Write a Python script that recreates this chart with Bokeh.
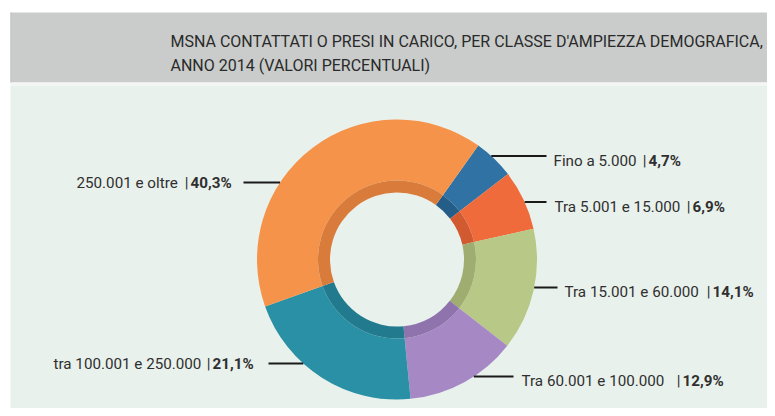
import math
from bokeh.plotting import figure
from bokeh.models import Range1d
from bokeh.core.properties import value
from bokeh.embed import file_html
from bokeh.resources import INLINE

# ---- data ----
categories = ["Fino a 5.000", "Tra 5.001 e 15.000", "Tra 15.001 e 60.000",
              "Tra 60.001 e 100.000", "tra 100.001 e 250.000", "250.001 e oltre"]
shares = [4.7, 6.9, 14.1, 12.9, 21.1, 40.3]
pct_labels = ["4,7%", "6,9%", "14,1%", "12,9%", "21,1%", "40,3%"]
title_lines = ["MSNA CONTATTATI O PRESI IN CARICO, PER CLASSE D'AMPIEZZA DEMOGRAFICA,",
               "ANNO 2014 (VALORI PERCENTUALI)"]

# ---- styles / layout ----
colors = ["#2F72A3", "#F06B3B", "#B8C886", "#A689C4", "#2A90A6", "#F5934A"]
dark_colors = ["#245D88", "#D25A31", "#9FAE70", "#8E73AC", "#217A8D", "#D97B3A"]
W, H = 767, 408
def Y(yp):
    return H - yp

cx, cy = 396.5, Y(259)
r_out, r_mid, r_in = 140, 79, 67
start_cw = 35.5

# label layout (px from top-left)
sides = ["R", "R", "R", "R", "L", "L"]
baselines = [160, 206, 291.5, 380.5, 363.5, 182.5]
name_x = [553, 554, 564, 521, 53, 76]
pipe_x = [644, 688, 708, 678, 208, 186]
pct_x = [648, 692, 712, 682, 212, 190]
line_end = [546, 546, 557, 513, 268, 243]

FONT = "Roboto"
FS = "15.2px"
TXT = "#2f2f2f"

p = figure(width=W, height=H, output_backend="svg", toolbar_location=None,
           x_range=Range1d(0, W), y_range=Range1d(0, H),
           x_axis_location=None, y_axis_location=None, min_border=0)
p.outline_line_color = None
p.grid.visible = False
p.background_fill_color = "white"
p.border_fill_color = "white"

# background panels
p.quad(left=[10], right=[W], top=[Y(12)], bottom=[Y(82)], fill_color="#C9CCCA", line_color=None)
p.quad(left=[10], right=[W], top=[Y(82)], bottom=[Y(85)], fill_color="#F3F6F4", line_color=None)
p.quad(left=[10], right=[W], top=[Y(85)], bottom=[0], fill_color="#E9F1EC", line_color=None)
p.quad(left=[10], right=[11], top=[Y(12)], bottom=[Y(82)], fill_color="#BFC3C1", line_color=None)

# title
for i, t in enumerate(title_lines):
    p.text(x=[170], y=[Y(41 + 23.5 * i)], text=[t], text_font=value(FONT),
           text_font_size="16px", text_color="#2a2a2a", text_baseline="alphabetic")

# donut
cum = 0.0
starts, ends = [], []
for s in shares:
    a0 = start_cw + cum * 3.6
    a1 = start_cw + (cum + s) * 3.6
    starts.append(math.radians(90 - a0))
    ends.append(math.radians(90 - a1))
    cum += s

p.annular_wedge(x=[cx] * 6, y=[cy] * 6, inner_radius=r_mid, outer_radius=r_out,
                start_angle=starts, end_angle=ends, direction="clock",
                fill_color=colors, line_color=None)
p.annular_wedge(x=[cx] * 6, y=[cy] * 6, inner_radius=r_in, outer_radius=r_mid,
                start_angle=starts, end_angle=ends, direction="clock",
                fill_color=dark_colors, line_color=None)

# labels with leader lines
for i in range(6):
    b = baselines[i]
    if sides[i] == "R":
        ly = b - 4.5
        dy = Y(ly) - cy
        x0 = cx + math.sqrt(max(r_out ** 2 - dy ** 2, 0))
        xs = [x0, line_end[i]]
    else:
        ly = b - 0.5
        dy = Y(ly) - cy
        x0 = cx - math.sqrt(max(r_out ** 2 - dy ** 2, 0))
        xs = [line_end[i], x0]
    p.line(x=xs, y=[Y(ly), Y(ly)], line_color="#1a1a1a", line_width=2)
    p.text(x=[name_x[i]], y=[Y(b)], text=[categories[i]], text_font=value(FONT),
           text_font_size=FS, text_color=TXT, text_baseline="alphabetic", text_align="left")
    p.text(x=[pipe_x[i]], y=[Y(b)], text=["|"], text_font=value(FONT),
           text_font_size=FS, text_color=TXT, text_baseline="alphabetic", text_align="center")
    p.text(x=[pct_x[i]], y=[Y(b)], text=[pct_labels[i]], text_font=value(FONT),
           text_font_style="bold", text_font_size=FS, text_color=TXT,
           text_baseline="alphabetic", text_align="left")

open("out.html", "w").write(file_html(p, INLINE))
